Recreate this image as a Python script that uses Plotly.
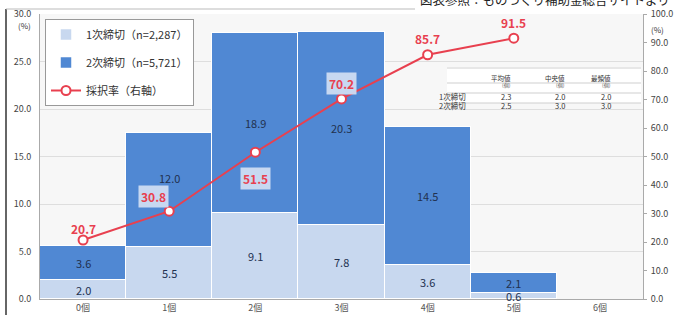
import plotly.graph_objects as go

categories = ["0個", "1個", "2個", "3個", "4個", "5個", "6個"]
first_round = [2.0, 5.5, 9.1, 7.8, 3.6, 0.6, None]
second_round = [3.6, 12.0, 18.9, 20.3, 14.5, 2.1, None]
adoption_rate = [20.7, 30.8, 51.5, 70.2, 85.7, 91.5, None]
left_ticks = [0, 5, 10, 15, 20, 25, 30]
right_ticks = [0, 10, 20, 30, 40, 50, 60, 70, 80, 90, 100]
table_header = ["平均値", "中央値", "最頻値"]
table_unit = "(個)"
table_rows = [["1次締切", "2.3", "2.0", "2.0"], ["2次締切", "2.5", "3.0", "3.0"]]

FONT = "Noto Sans CJK JP, Noto Sans, sans-serif"
LIGHT = "#c8d8ef"
DARK = "#5088d3"
RED = "#e8404f"
NAVY = "#22314f"

fig = go.Figure()
fig.add_trace(go.Bar(x=categories, y=first_round, name="1次締切（n=2,287）",
                     marker=dict(color=LIGHT, line=dict(color="white", width=1.5)),
                     legendgroup="a"))
fig.add_trace(go.Bar(x=categories, y=second_round, name="2次締切（n=5,721）",
                     marker=dict(color=DARK, line=dict(color="white", width=1.5)),
                     legendgroup="b"))
fig.add_trace(go.Scatter(x=categories, y=adoption_rate, name="採択率（右軸）", yaxis="y2",
                         mode="lines+markers", line=dict(color=RED, width=2),
                         marker=dict(size=9, color="white", line=dict(color=RED, width=2)),
                         legendgroup="c"))

ann = []
# bar value labels
bar_label_shift = {1: 12}
for i, c in enumerate(categories):
    a = first_round[i]
    b = second_round[i]
    if a is None:
        continue
    ann.append(dict(x=c, y=a / 2, text=f"{a:.1f}", showarrow=False,
                    font=dict(size=11, color=NAVY, family=FONT)))
    ann.append(dict(x=c, y=a + b / 2, text=f"{b:.1f}", showarrow=False,
                    yshift=bar_label_shift.get(i, 0),
                    font=dict(size=11, color=NAVY, family=FONT)))

# rate labels
offsets = [(0, 12), (-16, 15), (0, -26), (0, 15), (0, 16), (0, 16)]
for i, c in enumerate(categories):
    r = adoption_rate[i]
    if r is None:
        continue
    dx, dy = offsets[i]
    inbar = i in (1, 2, 3)
    ann.append(dict(x=c, y=r, yref="y2", text=f"<b>{r:.1f}</b>", showarrow=False,
                    xshift=dx, yshift=dy,
                    font=dict(size=12, color=RED, family=FONT),
                    bgcolor="rgba(205,220,242,0.95)" if inbar else None,
                    borderpad=2))

# axis unit labels
ann.append(dict(xref="paper", yref="paper", x=-0.012, y=0.958, text="(%)", showarrow=False,
                font=dict(size=8, color="#333", family=FONT), xanchor="right", yanchor="middle"))
ann.append(dict(xref="paper", yref="paper", x=1.01, y=0.945, text="(%)", showarrow=False,
                font=dict(size=8, color="#333", family=FONT), xanchor="left", yanchor="middle"))

# source text (clipped at top)
ann.append(dict(xref="paper", yref="paper", x=1.0, y=1.0, yshift=15, xanchor="right",
                yanchor="middle", text="図表参照：ものづくり補助金総合サイトより", showarrow=False,
                xshift=29,
                font=dict(size=12.5, color="#222", family=FONT)))

# table
def px_x(p):
    return (p - 40) / 603

def px_y(p):
    return (299 - p) / 285

col_x = [468, 513, 567, 613]
for j, h in enumerate(table_header):
    ann.append(dict(xref="paper", yref="paper", x=px_x(col_x[j + 1]), y=px_y(71.5),
                    text=h, showarrow=False, font=dict(size=6.5, color="#333", family=FONT)))
    ann.append(dict(xref="paper", yref="paper", x=px_x(col_x[j + 1]), y=px_y(79),
                    text=table_unit, showarrow=False, font=dict(size=5, color="#555", family=FONT)))
row_y = [88.5, 98]
for r, row in enumerate(table_rows):
    for j, v in enumerate(row):
        ann.append(dict(xref="paper", yref="paper", x=px_x(col_x[j]), y=px_y(row_y[r]),
                        text=v, showarrow=False, font=dict(size=7.5, color="#333", family=FONT)))

shapes = [
    dict(type="rect", xref="paper", yref="paper", x0=px_x(447), x1=px_x(641), y0=px_y(103), y1=px_y(67),
         fillcolor="white", line=dict(width=0), layer="below"),
]
for yy in [68, 83, 93, 103]:
    shapes.append(dict(type="line", xref="paper", yref="paper", x0=px_x(447), x1=px_x(641),
                       y0=px_y(yy), y1=px_y(yy), line=dict(color="#cfcfcf", width=1)))
# outer frame lines
shapes.append(dict(type="line", xref="paper", yref="paper", x0=px_x(6), x1=px_x(6),
                   y0=px_y(9), y1=px_y(320), line=dict(color="#333", width=1.5)))
shapes.append(dict(type="line", xref="paper", yref="paper", x0=px_x(6), x1=px_x(415),
                   y0=px_y(9), y1=px_y(9), line=dict(color="#bbb", width=1)))

fig.update_layout(
    width=676, height=315,
    margin=dict(l=40, r=33, t=14, b=16, autoexpand=False),
    paper_bgcolor="white", plot_bgcolor="#f7f7f7",
    barmode="stack", bargap=0,
    font=dict(family=FONT, size=10, color="#444"),
    showlegend=True,
    legend=dict(x=px_x(45), y=px_y(19), xanchor="left", yanchor="top",
                bgcolor="white", bordercolor="#999", borderwidth=1,
                font=dict(size=11, color="#333", family=FONT),
                traceorder="grouped", tracegroupgap=9,
                itemwidth=30),
    xaxis=dict(type="category", showgrid=False, showline=True, linecolor="#aaa",
               ticks="", tickfont=dict(size=9, color="#555"), ticklabelstandoff=0,
               range=[-0.5, 6.5], automargin=False),
    yaxis=dict(range=[0, 30], tickvals=left_ticks, ticktext=[f"{v:.1f}" for v in left_ticks],
               showgrid=True, gridcolor="#dedede", gridwidth=1, zeroline=False,
               showline=True, linecolor="#aaa", ticks="",
               tickfont=dict(size=9, color="#444"), ticklabelstandoff=6, automargin=False),
    yaxis2=dict(range=[0, 100], tickvals=right_ticks, ticktext=[f"{v:.1f}" for v in right_ticks],
                overlaying="y", side="right", showgrid=False, zeroline=False,
                showline=True, linecolor="#aaa", ticks="outside", ticklen=3, tickcolor="#aaa",
                tickfont=dict(size=9, color="#444"), ticklabelstandoff=2, automargin=False),
    annotations=ann,
    shapes=shapes,
)

fig.write_html("out.html", config={"displayModeBar": False},
               post_script="document.body.style.margin='0';document.body.style.overflow='hidden';")
